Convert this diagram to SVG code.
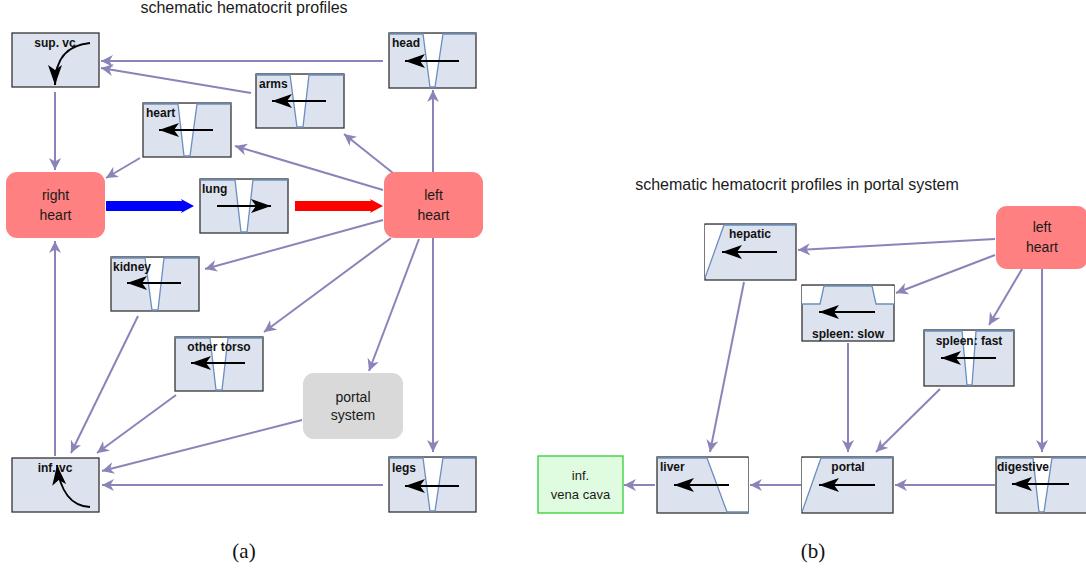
<svg xmlns="http://www.w3.org/2000/svg" width="1086" height="571" viewBox="0 0 1086 571">
<style>
.box{fill:#dce3ef;stroke:#333;stroke-width:1.3}
.notch{fill:#fff;stroke:none}
.prof{fill:none;stroke:#6c8ebf;stroke-width:1.3}
.lbl{font-family:"Liberation Sans",Arial,sans-serif;font-size:12px;font-weight:bold;fill:#111}
.txt{font-family:"Liberation Sans",Arial,sans-serif;font-size:14px;fill:#1a1a1a;text-anchor:middle}
.title{font-family:"Liberation Sans",Arial,sans-serif;font-size:16px;fill:#1a1a1a;text-anchor:middle}
.cap{font-family:"Liberation Serif","DejaVu Serif",serif;font-size:21px;fill:#111;text-anchor:middle}
.flow{fill:none;stroke:#8a84b9;stroke-width:2;marker-end:url(#pa)}
.inner{fill:none;stroke:#000;stroke-width:2;marker-end:url(#ba)}
.heartnode{fill:#ff8080;stroke:none}
</style>
<defs>
<marker id="pa" markerUnits="userSpaceOnUse" markerWidth="12" markerHeight="12" refX="10" refY="5" orient="auto" viewBox="0 0 10 10">
<path d="M0,0 L10,5 L0,10 L3,5 z" fill="#8a84b9"/>
</marker>
<marker id="ba" markerUnits="userSpaceOnUse" markerWidth="21" markerHeight="14" refX="20" refY="7" orient="auto" viewBox="0 0 21 14">
<path d="M0,0 L20,7 L0,14 L5,7 z" fill="#000"/>
</marker>
</defs>

<text class="title" x="244" y="13">schematic hematocrit profiles</text>
<text class="title" x="797" y="190">schematic hematocrit profiles in portal system</text>
<text class="cap" x="244" y="558">(a)</text>
<text class="cap" x="813" y="558">(b)</text>

<g id="connectors">
<path class="flow" d="M383,61 L101,61"/>
<path class="flow" d="M251,93 L101,68"/>
<path class="flow" d="M55,92 L55,170"/>
<path class="flow" d="M140,158 L106,178"/>
<path class="flow" d="M383,190 L235,146"/>
<path class="flow" d="M393,173 L344,134"/>
<path class="flow" d="M433,172 L433,90"/>
<path class="flow" d="M383,220 L205,269"/>
<path class="flow" d="M391,238 L264,332"/>
<path class="flow" d="M419,239 L369,371"/>
<path class="flow" d="M433,238 L433,452"/>
<path class="flow" d="M138,316 L71,453"/>
<path class="flow" d="M176,395 L97,453"/>
<path class="flow" d="M302,420 L102,471"/>
<path class="flow" d="M383,485 L102,485"/>
<path class="flow" d="M55,456 L55,241"/>
<polygon points="106,201 182,201 181,199 194,206 181,213 182,211 106,211" fill="#0000ff"/>
<polygon points="295,201 371,201 370,199 383,206 370,213 371,211 295,211" fill="#ff0000"/>
<path class="flow" d="M995,239 L798,250"/>
<path class="flow" d="M995,255 L896,293"/>
<path class="flow" d="M1022,269 L989,325"/>
<path class="flow" d="M1042,269 L1042,452"/>
<path class="flow" d="M744,282 L710,452"/>
<path class="flow" d="M848,343 L848,452"/>
<path class="flow" d="M940,389 L876,452"/>
<path class="flow" d="M995,485 L895,485"/>
<path class="flow" d="M801,485 L750,485"/>
<path class="flow" d="M655,485 L624,485"/>
</g>

<g id="right-heart">
<rect class="heartnode" x="6" y="172" width="99" height="66" rx="11"/>
<text class="txt" x="55.5" y="200">right</text>
<text class="txt" x="55.5" y="220">heart</text>
</g>
<g id="left-heart">
<rect class="heartnode" x="384" y="172" width="99" height="66" rx="11"/>
<text class="txt" x="433.5" y="200">left</text>
<text class="txt" x="433.5" y="220">heart</text>
</g>
<g id="portal-system">
<rect x="303" y="373" width="100" height="66" rx="11" fill="#d9d9d9"/>
<text class="txt" x="353" y="402">portal</text>
<text class="txt" x="353" y="420">system</text>
</g>

<g id="sup-vc">
<rect class="box" x="12" y="33" width="87" height="54"/>
<text class="lbl" x="55" y="47" text-anchor="middle">sup. vc</text>
<path class="inner" d="M90,43 C70,45 55,55 55,85"/>
</g>
<g id="head">
<rect class="box" x="389" y="33" width="87" height="55"/>
<polygon class="notch" points="423,34 430,87 435,87 443,34"/>
<polyline class="prof" points="389,34 423,34 430,87 435,87 443,34 476,34"/>
<text class="lbl" x="392" y="47">head</text>
<path class="inner" d="M459,61 L405,61"/>
</g>
<g id="arms">
<rect class="box" x="256" y="74" width="88" height="54"/>
<polygon class="notch" points="290,75 297,127 303,127 309,75"/>
<polyline class="prof" points="256,75 290,75 297,127 303,127 309,75 344,75"/>
<text class="lbl" x="259" y="88">arms</text>
<path class="inner" d="M326,101 L272,101"/>
</g>
<g id="heart">
<rect class="box" x="143" y="103" width="88" height="54"/>
<polygon class="notch" points="178,104 184,156 190,156 197,104"/>
<polyline class="prof" points="143,104 178,104 184,156 190,156 197,104 231,104"/>
<text class="lbl" x="146" y="117">heart</text>
<path class="inner" d="M213,130 L159,130"/>
</g>
<g id="lung">
<rect class="box" x="200" y="179" width="88" height="54"/>
<polygon class="notch" points="235,180 241,232 247,232 253,180"/>
<polyline class="prof" points="200,180 235,180 241,232 247,232 253,180 288,180"/>
<text class="lbl" x="202" y="193">lung</text>
<path class="inner" d="M217,206 L271,206"/>
</g>
<g id="kidney">
<rect class="box" x="111" y="257" width="88" height="54"/>
<polygon class="notch" points="145,258 152,310 158,310 164,258"/>
<polyline class="prof" points="111,258 145,258 152,310 158,310 164,258 199,258"/>
<text class="lbl" x="113" y="271">kidney</text>
<path class="inner" d="M181,283 L127,283"/>
</g>
<g id="other-torso">
<rect class="box" x="175" y="337" width="88" height="54"/>
<polygon class="notch" points="210,338 216,390 222,390 228,338"/>
<polyline class="prof" points="175,338 210,338 216,390 222,390 228,338 263,338"/>
<text class="lbl" x="219" y="351" text-anchor="middle">other torso</text>
<path class="inner" d="M245,363 L191,363"/>
</g>
<g id="inf-vc">
<rect class="box" x="12" y="458" width="87" height="54"/>
<text class="lbl" x="55" y="472" text-anchor="middle">inf. vc</text>
<path class="inner" d="M90,507 C72,506 60,492 57,465"/>
</g>
<g id="legs">
<rect class="box" x="389" y="457" width="87" height="55"/>
<polygon class="notch" points="423,458 430,511 435,511 443,458"/>
<polyline class="prof" points="389,458 423,458 430,511 435,511 443,458 476,458"/>
<text class="lbl" x="392" y="472">legs</text>
<path class="inner" d="M459,486 L405,486"/>
</g>

<g id="left-heart-b">
<rect class="heartnode" x="996" y="206" width="92" height="63" rx="11"/>
<text class="txt" x="1042" y="232">left</text>
<text class="txt" x="1042" y="252">heart</text>
</g>
<g id="hepatic">
<rect class="box" x="705" y="224" width="91" height="56"/>
<polygon class="notch" points="705,225 724,225 705,278"/>
<polyline class="prof" points="705,278 724,225 796,225"/>
<text class="lbl" x="750" y="238" text-anchor="middle">hepatic</text>
<path class="inner" d="M777,252 L722,252"/>
</g>
<g id="spleen-slow">
<rect class="box" x="802" y="285" width="92" height="56"/>
<polygon class="notch" points="802,286 824,286 820,304 802,304"/>
<polygon class="notch" points="872,286 894,286 894,304 876,304"/>
<polyline class="prof" points="802,304 820,304 824,286 872,286 876,304 894,304"/>
<text class="lbl" x="848" y="338" text-anchor="middle">spleen: slow</text>
<path class="inner" d="M875,312 L819,312"/>
</g>
<g id="spleen-fast">
<rect class="box" x="924" y="330" width="90" height="56"/>
<polygon class="notch" points="962,331 967,385 972,385 976,331"/>
<polyline class="prof" points="924,331 962,331 967,385 972,385 976,331 1014,331"/>
<text class="lbl" x="969" y="345" text-anchor="middle">spleen: fast</text>
<path class="inner" d="M996,358 L941,358"/>
</g>
<g id="inf-vena-cava">
<rect x="538" y="456" width="85" height="57" fill="#e0fce0" stroke="#33cc33" stroke-width="1.3"/>
<text class="txt" x="580.5" y="480" style="font-size:13px">inf.</text>
<text class="txt" x="580.5" y="499" style="font-size:13px">vena cava</text>
</g>
<g id="liver">
<rect class="box" x="657" y="457" width="91" height="56"/>
<polygon class="notch" points="707,458 748,458 748,512 727,512"/>
<polyline class="prof" points="657,458 707,458 727,512 748,512"/>
<text class="lbl" x="660" y="471">liver</text>
<path class="inner" d="M729,485 L674,485"/>
</g>
<g id="portal">
<rect class="box" x="802" y="457" width="91" height="56"/>
<polygon class="notch" points="802,458 821,458 802,512"/>
<polyline class="prof" points="802,512 821,458 893,458"/>
<text class="lbl" x="848" y="471" text-anchor="middle">portal</text>
<path class="inner" d="M875,485 L819,485"/>
</g>
<g id="digestive">
<rect class="box" x="996" y="457" width="92" height="56"/>
<polygon class="notch" points="1033,458 1039,512 1044,512 1052,458"/>
<polyline class="prof" points="996,458 1033,458 1039,512 1044,512 1052,458 1088,458"/>
<text class="lbl" x="997" y="471">digestive</text>
<path class="inner" d="M1069,484 L1012,484"/>
</g>
</svg>
